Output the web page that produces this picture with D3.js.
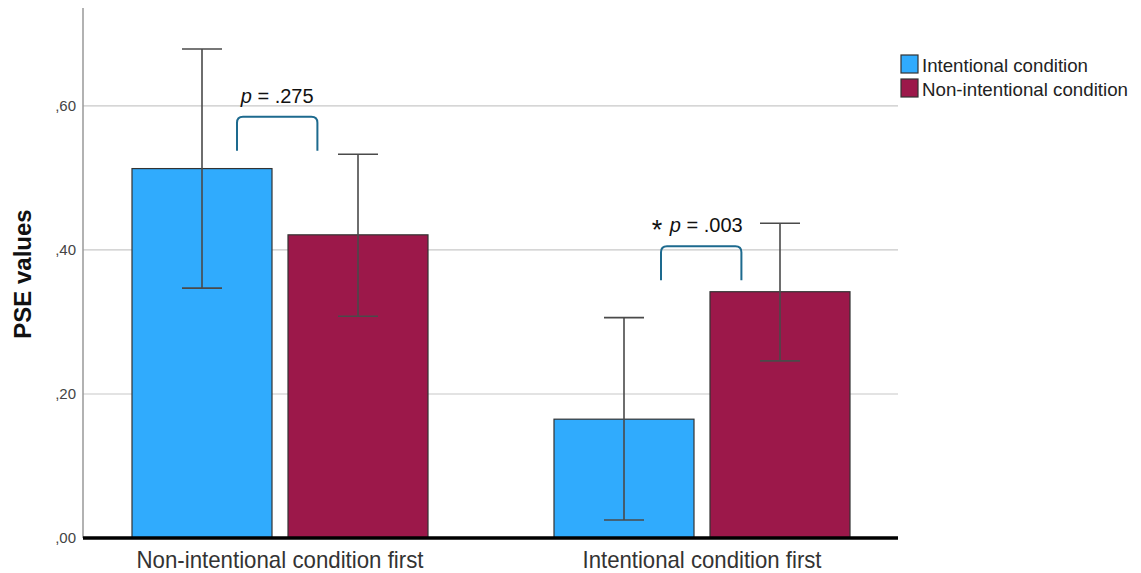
<!DOCTYPE html>
<html>
<head>
<meta charset="utf-8">
<script src="https://cdn.jsdelivr.net/npm/d3@7"></script>
<style>
  html, body { margin: 0; padding: 0; background: #fff; }
  svg { display: block; }
</style>
</head>
<body>
<svg id="chart" width="1141" height="573"></svg>
<script>
// Group categories (x axis) and series
const groups = ["Non-intentional condition first", "Intentional condition first"];
const series = ["Intentional condition", "Non-intentional condition"];

// Mean PSE values per group, ordered by series
const means = [
  [0.513, 0.421],
  [0.165, 0.342]
];
// Error bar bounds (lower, upper) per group, ordered by series
const lower = [
  [0.347, 0.308],
  [0.025, 0.246]
];
const upper = [
  [0.679, 0.533],
  [0.306, 0.437]
];

// Y axis ticks and their labels
const yTicks = [0, 0.2, 0.4, 0.6];
const yTickLabels = [",00", ",20", ",40", ",60"];

// Significance annotations per group
const pLabels = ["p = .275", "p = .003"];
const pStars = ["", "*"];
const bracketY = [0.585, 0.405];

const colors = ["#30abfd", "#9c184a"];

const svg = d3.select("#chart");

const plotLeft = 83, plotRight = 898;
const y = d3.scaleLinear().domain([0, 0.736]).range([538, 8]);

const x0 = d3.scaleBand().domain(groups).range([69, 913]).padding(0);
const x1 = d3.scaleBand().domain(series).range([0, 296]).paddingInner(16 / 156).paddingOuter(0);
const groupOffset = (x0.bandwidth() - 296) / 2;

// Horizontal gridlines
svg.append("g")
  .selectAll("line")
  .data(yTicks.filter(d => d > 0))
  .join("line")
  .attr("x1", plotLeft).attr("x2", plotRight)
  .attr("y1", d => y(d)).attr("y2", d => y(d))
  .attr("stroke", "#c8c8c8").attr("stroke-width", 1.2);

// Y axis line
svg.append("line")
  .attr("x1", plotLeft).attr("x2", plotLeft)
  .attr("y1", y(0.736)).attr("y2", y(0))
  .attr("stroke", "#999").attr("stroke-width", 1.5);

// Y tick labels
svg.append("g")
  .selectAll("text")
  .data(yTicks)
  .join("text")
  .attr("x", 76)
  .attr("y", d => y(d))
  .attr("dy", "0.35em")
  .attr("text-anchor", "end")
  .attr("font-family", "Liberation Sans, Arial, sans-serif")
  .attr("font-size", 15)
  .attr("fill", "#444")
  .text((d, i) => yTickLabels[i]);

// Y axis title
svg.append("text")
  .attr("transform", `translate(31, 274) rotate(-90)`)
  .attr("text-anchor", "middle")
  .attr("font-family", "Liberation Sans, Arial, sans-serif")
  .attr("font-weight", "bold")
  .attr("font-size", 24)
  .attr("fill", "#111")
  .text("PSE values");

// Bars
const gGroups = svg.append("g")
  .selectAll("g")
  .data(groups)
  .join("g")
  .attr("transform", d => `translate(${x0(d) + groupOffset},0)`);

gGroups.selectAll("rect")
  .data((g, gi) => series.map((s, si) => ({ s, si, v: means[gi][si] })))
  .join("rect")
  .attr("x", d => x1(d.s))
  .attr("width", x1.bandwidth())
  .attr("y", d => y(d.v))
  .attr("height", d => y(0) - y(d.v))
  .attr("fill", d => colors[d.si])
  .attr("stroke", "#333")
  .attr("stroke-width", 1.2);

// Error bars
const capHalf = 20;
const eb = gGroups.selectAll("g.err")
  .data((g, gi) => series.map((s, si) => ({ s, lo: lower[gi][si], hi: upper[gi][si] })))
  .join("g")
  .attr("class", "err")
  .attr("stroke", "#4a4a4a")
  .attr("stroke-width", 1.6);
eb.append("line")
  .attr("x1", d => x1(d.s) + x1.bandwidth() / 2)
  .attr("x2", d => x1(d.s) + x1.bandwidth() / 2)
  .attr("y1", d => y(d.lo)).attr("y2", d => y(d.hi));
eb.append("line")
  .attr("x1", d => x1(d.s) + x1.bandwidth() / 2 - capHalf)
  .attr("x2", d => x1(d.s) + x1.bandwidth() / 2 + capHalf)
  .attr("y1", d => y(d.hi)).attr("y2", d => y(d.hi));
eb.append("line")
  .attr("x1", d => x1(d.s) + x1.bandwidth() / 2 - capHalf)
  .attr("x2", d => x1(d.s) + x1.bandwidth() / 2 + capHalf)
  .attr("y1", d => y(d.lo)).attr("y2", d => y(d.lo));

// Baseline
svg.append("line")
  .attr("x1", plotLeft).attr("x2", plotRight)
  .attr("y1", y(0)).attr("y2", y(0))
  .attr("stroke", "#000").attr("stroke-width", 3.5);

// X category labels (condensed to the group width)
const labelWidths = [287, 239];
svg.append("g")
  .selectAll("text")
  .data(groups)
  .join("text")
  .attr("x", d => x0(d) + x0.bandwidth() / 2)
  .attr("y", 568)
  .attr("text-anchor", "middle")
  .attr("font-family", "Liberation Sans, Arial, sans-serif")
  .attr("font-size", 24)
  .attr("textLength", (d, i) => labelWidths[i])
  .attr("lengthAdjust", "spacingAndGlyphs")
  .attr("fill", "#333")
  .text(d => d);

// Significance brackets between the two bars in each group
const bracket = svg.append("g")
  .selectAll("g")
  .data(groups)
  .join("g")
  .attr("transform", d => `translate(${x0(d) + groupOffset},0)`);

const bxl = () => x1.bandwidth() * 0.75;
const bxr = () => x1(series[1]) + x1.bandwidth() * 0.21;

bracket.append("path")
  .attr("d", (d, gi) => {
    const xl = bxl() + gi * 2;
    const xr = bxr() + gi * 2;
    const top = y(bracketY[gi]);
    const bot = top + 34;
    const r = 6;
    return `M${xl},${bot} L${xl},${top + r} Q${xl},${top} ${xl + r},${top} ` +
           `L${xr - r},${top} Q${xr},${top} ${xr},${top + r} L${xr},${bot}`;
  })
  .attr("fill", "none")
  .attr("stroke", "#1d6a8e")
  .attr("stroke-width", 2);

const ptext = bracket.append("text")
  .attr("x", (d, gi) => (bxl() + bxr()) / 2 - gi * 2)
  .attr("y", (d, gi) => y(bracketY[gi]) - 14)
  .attr("text-anchor", "middle")
  .attr("font-family", "Liberation Sans, Arial, sans-serif")
  .attr("font-size", 20)
  .attr("fill", "#111");
ptext.append("tspan")
  .attr("font-size", 27)
  .attr("dy", "0.25em")
  .text((d, gi) => pStars[gi] ? pStars[gi] + " " : "");
ptext.append("tspan")
  .attr("dy", (d, gi) => pStars[gi] ? "-0.34em" : "0")
  .attr("font-style", "italic")
  .text((d, gi) => pLabels[gi].slice(0, 1));
ptext.append("tspan")
  .text((d, gi) => pLabels[gi].slice(1));

// Legend
const legend = svg.append("g")
  .selectAll("g")
  .data(series)
  .join("g")
  .attr("transform", (d, i) => `translate(901, ${55 + i * 24})`);
legend.append("rect")
  .attr("width", 17).attr("height", 18)
  .attr("fill", (d, i) => colors[i])
  .attr("stroke", "#333").attr("stroke-width", 1.2);
legend.append("text")
  .attr("x", 21).attr("y", 10)
  .attr("dy", "0.36em")
  .attr("font-family", "Liberation Sans, Arial, sans-serif")
  .attr("font-size", 18.5)
  .attr("textLength", (d, i) => [166, 206][i])
  .attr("lengthAdjust", "spacingAndGlyphs")
  .attr("fill", "#222")
  .text(d => d);
</script>
</body>
</html>
